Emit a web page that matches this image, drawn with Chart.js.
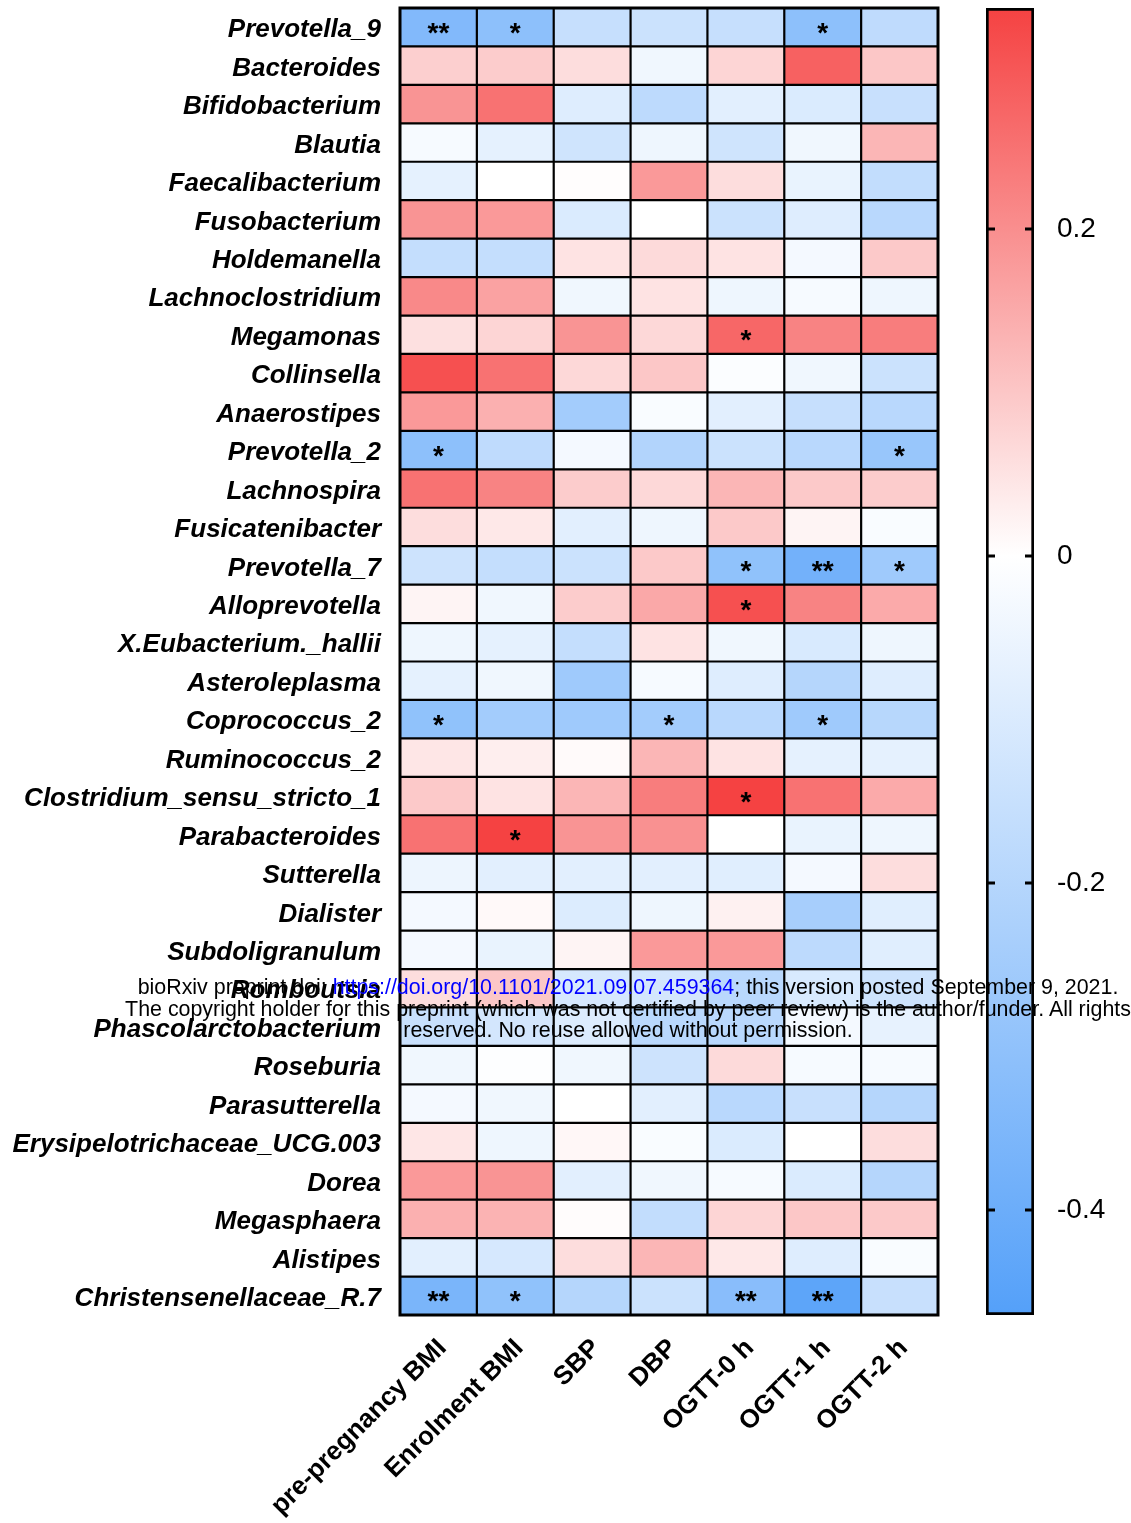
<!DOCTYPE html>
<html>
<head>
<meta charset="utf-8">
<script src="https://cdn.jsdelivr.net/npm/chart.js@4.4.1/dist/chart.umd.min.js"></script>
<style>
  html, body { margin: 0; padding: 0; background: #fff; }
  #wrap { position: relative; width: 1131px; height: 1523px; overflow: hidden; }
  #heat { position: absolute; left: 0; top: 0; }
  #scale { position: absolute; left: 960px; top: 0; }
  .note {
    position: absolute; left: 28px; width: 1200px; text-align: center;
    white-space: nowrap; font: 21.4px 'Liberation Sans', Arial, sans-serif;
    line-height: 21.5px; color: #000;
  }
  .note a { color: #0000ff; text-decoration: none; }
</style>
</head>
<body>
<div id="wrap">
  <canvas id="heat" width="960" height="1523"></canvas>
  <canvas id="scale" width="171" height="1523"></canvas>
  <div class="note" style="top:977px">bioRxiv preprint doi: <a>https://doi.org/10.1101/2021.09.07.459364</a>; this version posted September 9, 2021.</div>
  <div class="note" style="top:998.5px">The copyright holder for this preprint (which was not certified by peer review) is the author/funder. All rights</div>
  <div class="note" style="top:1020px">reserved. No reuse allowed without permission.</div>
</div>
<script>
const genera = [
  'Prevotella_9', 'Bacteroides', 'Bifidobacterium', 'Blautia', 'Faecalibacterium',
  'Fusobacterium', 'Holdemanella', 'Lachnoclostridium', 'Megamonas', 'Collinsella',
  'Anaerostipes', 'Prevotella_2', 'Lachnospira', 'Fusicatenibacter', 'Prevotella_7',
  'Alloprevotella', 'X.Eubacterium._hallii', 'Asteroleplasma', 'Coprococcus_2', 'Ruminococcus_2',
  'Clostridium_sensu_stricto_1', 'Parabacteroides', 'Sutterella', 'Dialister', 'Subdoligranulum',
  'Romboutsia', 'Phascolarctobacterium', 'Roseburia', 'Parasutterella', 'Erysipelotrichaceae_UCG.003',
  'Dorea', 'Megasphaera', 'Alistipes', 'Christensenellaceae_R.7'
];

const traits = ['pre-pregnancy BMI', 'Enrolment BMI', 'SBP', 'DBP', 'OGTT-0 h', 'OGTT-1 h', 'OGTT-2 h'];

// correlation per trait, in the order of genera
const prePregnancyBmi = [-0.34, 0.085, 0.19, -0.025, -0.07, 0.19, -0.16, 0.21, 0.055, 0.31, 0.18, -0.31, 0.25, 0.06, -0.135, 0.02, -0.045, -0.07, -0.30, 0.045, 0.095, 0.25, -0.05, -0.03, -0.03, 0.06, -0.15, -0.04, -0.03, 0.045, 0.18, 0.14, -0.08, -0.36];
const enrolmentBmi = [-0.31, 0.09, 0.25, -0.07, 0.0, 0.18, -0.16, 0.165, 0.075, 0.25, 0.14, -0.175, 0.22, 0.04, -0.16, -0.04, -0.07, -0.04, -0.25, 0.03, 0.05, 0.335, -0.08, 0.01, -0.06, 0.10, -0.12, -0.005, -0.04, -0.045, 0.19, 0.135, -0.11, -0.30];
const sbp = [-0.155, 0.06, -0.09, -0.13, 0.003, -0.10, 0.05, -0.04, 0.19, 0.07, -0.25, -0.03, 0.09, -0.08, -0.14, 0.09, -0.16, -0.26, -0.26, 0.008, 0.13, 0.19, -0.08, -0.095, 0.02, -0.11, -0.095, -0.04, 0.0, 0.015, -0.08, 0.005, 0.06, -0.2];
const dbp = [-0.14, -0.04, -0.18, -0.045, 0.18, 0.0, 0.065, 0.05, 0.07, 0.10, -0.015, -0.21, 0.07, -0.045, 0.095, 0.155, 0.05, -0.025, -0.25, 0.13, 0.23, 0.195, -0.08, -0.045, 0.18, -0.12, -0.19, -0.135, -0.08, -0.015, -0.04, -0.165, 0.13, -0.14];
const ogtt0h = [-0.155, 0.075, -0.08, -0.13, 0.06, -0.14, 0.05, -0.045, 0.27, -0.01, -0.08, -0.14, 0.13, 0.095, -0.30, 0.31, -0.04, -0.09, -0.19, 0.05, 0.335, 0.0, -0.085, 0.025, 0.18, -0.19, -0.19, 0.065, -0.19, -0.1, -0.025, 0.075, 0.04, -0.32];
const ogtt1h = [-0.31, 0.28, -0.10, -0.04, -0.06, -0.09, -0.03, -0.025, 0.22, -0.04, -0.155, -0.19, 0.095, 0.02, -0.38, 0.22, -0.105, -0.2, -0.26, -0.07, 0.25, -0.06, -0.03, -0.24, -0.18, -0.105, -0.03, -0.025, -0.15, 0.0, -0.1, 0.10, -0.09, -0.44];
const ogtt2h = [-0.175, 0.10, -0.15, 0.13, -0.165, -0.19, 0.095, -0.045, 0.23, -0.14, -0.19, -0.28, 0.09, -0.015, -0.26, 0.15, -0.045, -0.09, -0.195, -0.07, 0.15, -0.045, 0.06, -0.085, -0.085, -0.135, -0.065, -0.025, -0.2, 0.06, -0.2, 0.095, -0.015, -0.15];

const traitValues = [prePregnancyBmi, enrolmentBmi, sbp, dbp, ogtt0h, ogtt1h, ogtt2h];

// [genus, trait index, mark]
const sigMarks = [
  ['Prevotella_9', 0, '**'], ['Prevotella_9', 1, '*'], ['Prevotella_9', 5, '*'],
  ['Megamonas', 4, '*'],
  ['Prevotella_2', 0, '*'], ['Prevotella_2', 6, '*'],
  ['Prevotella_7', 4, '*'], ['Prevotella_7', 5, '**'], ['Prevotella_7', 6, '*'],
  ['Alloprevotella', 4, '*'],
  ['Coprococcus_2', 0, '*'], ['Coprococcus_2', 3, '*'], ['Coprococcus_2', 5, '*'],
  ['Clostridium_sensu_stricto_1', 4, '*'],
  ['Parabacteroides', 1, '*'],
  ['Christensenellaceae_R.7', 0, '**'], ['Christensenellaceae_R.7', 1, '*'],
  ['Christensenellaceae_R.7', 4, '**'], ['Christensenellaceae_R.7', 5, '**']
];

const colorMin = -0.464;
const colorMax = 0.335;
const colorTicks = [-0.4, -0.2, 0, 0.2];

const hotEnd = [245, 66, 66];
const coldEnd = [84, 160, 249];
const FONT = "'Liberation Sans', Arial, sans-serif";

const heatColor = v => {
  const end = v >= 0 ? hotEnd : coldEnd;
  const t = Math.min(1, v >= 0 ? v / colorMax : v / colorMin);
  return `rgb(${end.map(ch => Math.round(255 + (ch - 255) * t)).join(',')})`;
};

const noPadding = scale => {
  scale.paddingTop = 0;
  scale.paddingBottom = 0;
  scale.paddingLeft = 0;
  scale.paddingRight = 0;
};

const gridPlugin = {
  id: 'cellGrid',
  afterDatasetsDraw(chart) {
    const { ctx, chartArea: a, scales } = chart;
    ctx.save();
    ctx.strokeStyle = '#000';
    ctx.lineWidth = 2.2;
    ctx.beginPath();
    for (let c = 1; c < traits.length; c++) {
      const x = scales.x.getPixelForValue(c);
      ctx.moveTo(x, a.top); ctx.lineTo(x, a.bottom);
    }
    for (let r = 0; r < genera.length - 1; r++) {
      const y = (scales.y.getPixelForValue(r) + scales.y.getPixelForValue(r + 1)) / 2;
      ctx.moveTo(a.left, y); ctx.lineTo(a.right, y);
    }
    ctx.stroke();

    ctx.fillStyle = '#000';
    ctx.font = `bold 28px ${FONT}`;
    ctx.textAlign = 'center';
    ctx.textBaseline = 'middle';
    sigMarks.forEach(([genus, col, mark]) => {
      const x = scales.x.getPixelForValue(col + 0.5);
      const y = scales.y.getPixelForValue(genera.indexOf(genus));
      ctx.fillText(mark, x, y + 7);
    });

    ctx.lineWidth = 3;
    ctx.strokeRect(a.left, a.top, a.right - a.left, a.bottom - a.top);
    ctx.restore();
  }
};

new Chart(document.getElementById('heat'), {
  type: 'bar',
  data: {
    labels: genera,
    datasets: traits.map((trait, c) => ({
      label: trait,
      data: genera.map(() => [c, c + 1]),
      backgroundColor: traitValues[c].map(heatColor),
      borderWidth: 0,
      barPercentage: 1,
      categoryPercentage: 1,
      grouped: false
    }))
  },
  options: {
    indexAxis: 'y',
    responsive: false,
    animation: false,
    devicePixelRatio: 1,
    layout: { padding: { top: 8, right: 22, left: 0, bottom: 0 } },
    plugins: { legend: { display: false }, tooltip: { enabled: false } },
    scales: {
      y: {
        type: 'category',
        grid: { display: false, drawTicks: false },
        border: { display: false },
        ticks: {
          padding: 19,
          labelOffset: 3,
          color: '#000',
          font: { family: FONT, size: 26, weight: 'bold', style: 'italic' }
        },
        afterFit: scale => { scale.width = 400; noPadding(scale); }
      },
      x: {
        type: 'linear',
        min: 0,
        max: 7,
        grid: { display: false, drawTicks: false },
        border: { display: false },
        afterBuildTicks: scale => { scale.ticks = traits.map((t, i) => ({ value: i + 0.5 })); },
        ticks: {
          autoSkip: false,
          minRotation: 45,
          maxRotation: 45,
          padding: 18,
          labelOffset: 4,
          color: '#000',
          font: { family: FONT, size: 26, weight: 'bold' },
          callback: (value, index) => traits[index]
        },
        afterFit: scale => { scale.height = 208; noPadding(scale); }
      }
    }
  },
  plugins: [gridPlugin]
});

const barTicksPlugin = {
  id: 'barTicks',
  afterDatasetsDraw(chart) {
    const { ctx, chartArea: a, scales } = chart;
    ctx.save();
    ctx.strokeStyle = '#000';
    ctx.lineWidth = 3;
    colorTicks.forEach(v => {
      const y = Math.round(scales.y.getPixelForValue(v));
      ctx.beginPath();
      ctx.moveTo(a.left, y); ctx.lineTo(a.left + 9, y);
      ctx.moveTo(a.right - 9, y); ctx.lineTo(a.right, y);
      ctx.stroke();
    });
    ctx.restore();
  }
};

new Chart(document.getElementById('scale'), {
  type: 'bar',
  data: {
    labels: [''],
    datasets: [{
      data: [[colorMin, colorMax]],
      backgroundColor: context => {
        const chart = context.chart;
        const a = chart.chartArea;
        if (!a) return '#fff';
        const g = chart.ctx.createLinearGradient(0, a.bottom, 0, a.top);
        g.addColorStop(0, heatColor(colorMin));
        g.addColorStop((0 - colorMin) / (colorMax - colorMin), heatColor(0));
        g.addColorStop(1, heatColor(colorMax));
        return g;
      },
      borderColor: '#000',
      borderWidth: 3,
      borderSkipped: false,
      barPercentage: 1,
      categoryPercentage: 1
    }]
  },
  options: {
    responsive: false,
    animation: false,
    devicePixelRatio: 1,
    layout: { padding: { top: 8, left: 26, right: 0, bottom: 208 } },
    plugins: { legend: { display: false }, tooltip: { enabled: false } },
    scales: {
      x: { display: false },
      y: {
        position: 'right',
        min: colorMin,
        max: colorMax,
        grid: { display: false, drawTicks: false },
        border: { display: false },
        afterBuildTicks: scale => { scale.ticks = colorTicks.map(v => ({ value: v })); },
        ticks: {
          padding: 23,
          color: '#000',
          font: { family: FONT, size: 28 },
          callback: v => (v === 0 ? '0' : v.toFixed(1))
        },
        afterFit: scale => { scale.width = 97; noPadding(scale); }
      }
    }
  },
  plugins: [barTicksPlugin]
});
</script>
</body>
</html>
